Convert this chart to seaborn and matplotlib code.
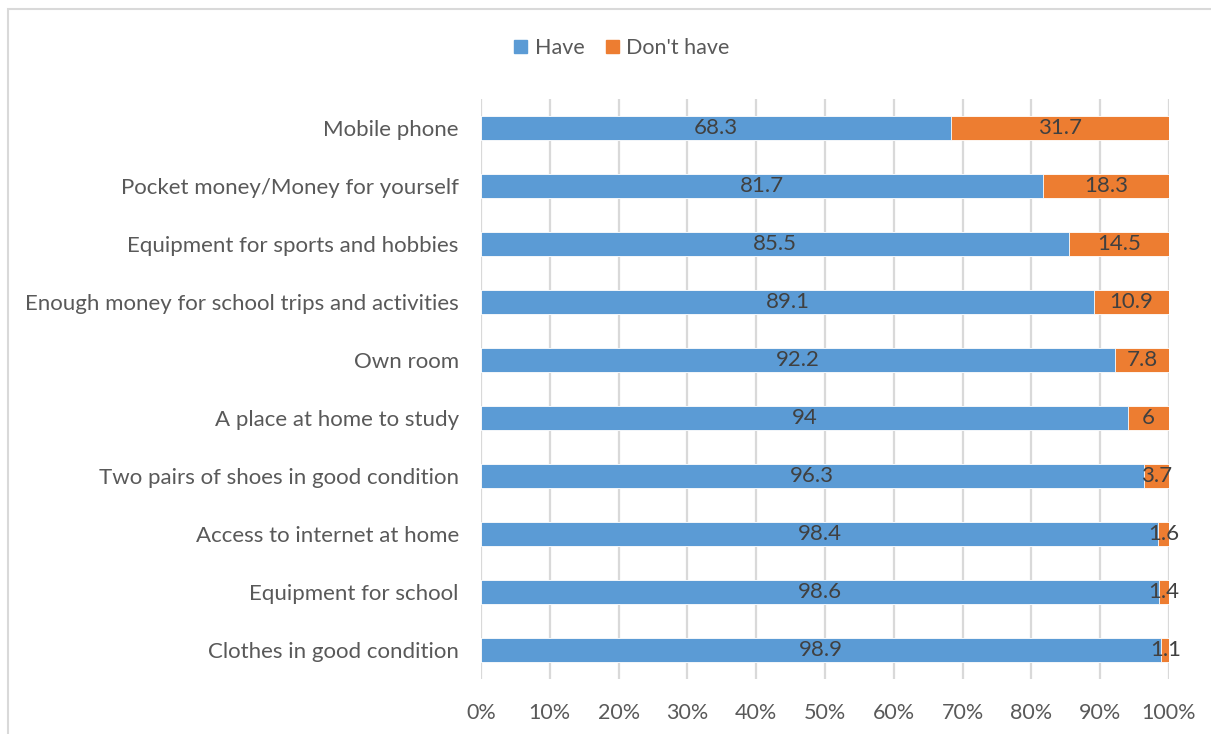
import matplotlib
matplotlib.use("Agg")
import matplotlib.pyplot as plt
import matplotlib.patches as mpatches
import seaborn as sns
import pandas as pd

items = [
    "Mobile phone",
    "Pocket money/Money for yourself",
    "Equipment for sports and hobbies",
    "Enough money for school trips and activities",
    "Own room",
    "A place at home to study",
    "Two pairs of shoes in good condition",
    "Access to internet at home",
    "Equipment for school",
    "Clothes in good condition",
]
have = [68.3, 81.7, 85.5, 89.1, 92.2, 94, 96.3, 98.4, 98.6, 98.9]
dont_have = [31.7, 18.3, 14.5, 10.9, 7.8, 6, 3.7, 1.6, 1.4, 1.1]
x_ticks = [0, 10, 20, 30, 40, 50, 60, 70, 80, 90, 100]

BLUE = "#5B9BD5"
ORANGE = "#ED7D31"
GRID = "#D9D9D9"
TICK_TXT = "#595959"
LABEL_TXT = "#404040"

sns.set_theme(style="white")
plt.rcParams["font.family"] = ["Lato", "DejaVu Sans"]

df = pd.DataFrame({"item": items, "have": have, "dont": dont_have})
df["total"] = df["have"] + df["dont"]

fig = plt.figure(figsize=(12.11, 7.34), dpi=100)
ax = fig.add_axes([481 / 1211, 1 - 679 / 734, (1169 - 481) / 1211, 580 / 734])

# stacked bars: full length in orange, the "have" share drawn over it in blue
sns.barplot(data=df, x="total", y="item", color=ORANGE, width=0.4,
            edgecolor="white", linewidth=0.6, saturation=1, ax=ax, zorder=3)
sns.barplot(data=df, x="have", y="item", color=BLUE, width=0.4,
            edgecolor="white", linewidth=0.6, saturation=1, ax=ax, zorder=4)

# value labels centred in each segment
for i, (h, d) in enumerate(zip(have, dont_have)):
    ax.text(h / 2, i, f"{h:g}", ha="center", va="center",
            fontsize=16, color=LABEL_TXT, zorder=6)
    ax.text(h + d / 2, i, f"{d:g}", ha="center", va="center",
            fontsize=16, color=LABEL_TXT, zorder=6)

ax.set_xlim(0, 100)
ax.set_ylim(9.5, -0.5)
ax.set_xticks(x_ticks)
ax.set_xticklabels([f"{t}%" for t in x_ticks])
ax.set_xlabel("")
ax.set_ylabel("")
for s in ax.spines.values():
    s.set_visible(False)
ax.grid(axis="x", color=GRID, linewidth=1.6, zorder=0)
ax.grid(axis="y", visible=False)
ax.tick_params(axis="x", length=0, pad=17, labelsize=15.5, labelcolor=TICK_TXT)
ax.tick_params(axis="y", length=0, pad=16, labelsize=16, labelcolor=TICK_TXT)

handles = [
    mpatches.Patch(color=BLUE, label="Have"),
    mpatches.Patch(color=ORANGE, label="Don't have"),
]
fig.legend(handles=handles, loc="center", bbox_to_anchor=(622 / 1211, 1 - 48 / 734),
           ncol=2, frameon=False, handlelength=0.6, handleheight=0.6,
           handletextpad=0.35, columnspacing=1.0, fontsize=15.5, labelcolor=TICK_TXT)

# chart-area outline
fig.patches.append(mpatches.Rectangle((8 / 1211, -0.05), 1.1, 1 - 9 / 734 + 0.05,
                                      transform=fig.transFigure, fill=False,
                                      edgecolor=GRID, linewidth=1.5))

fig.savefig("out.png", dpi=100)
